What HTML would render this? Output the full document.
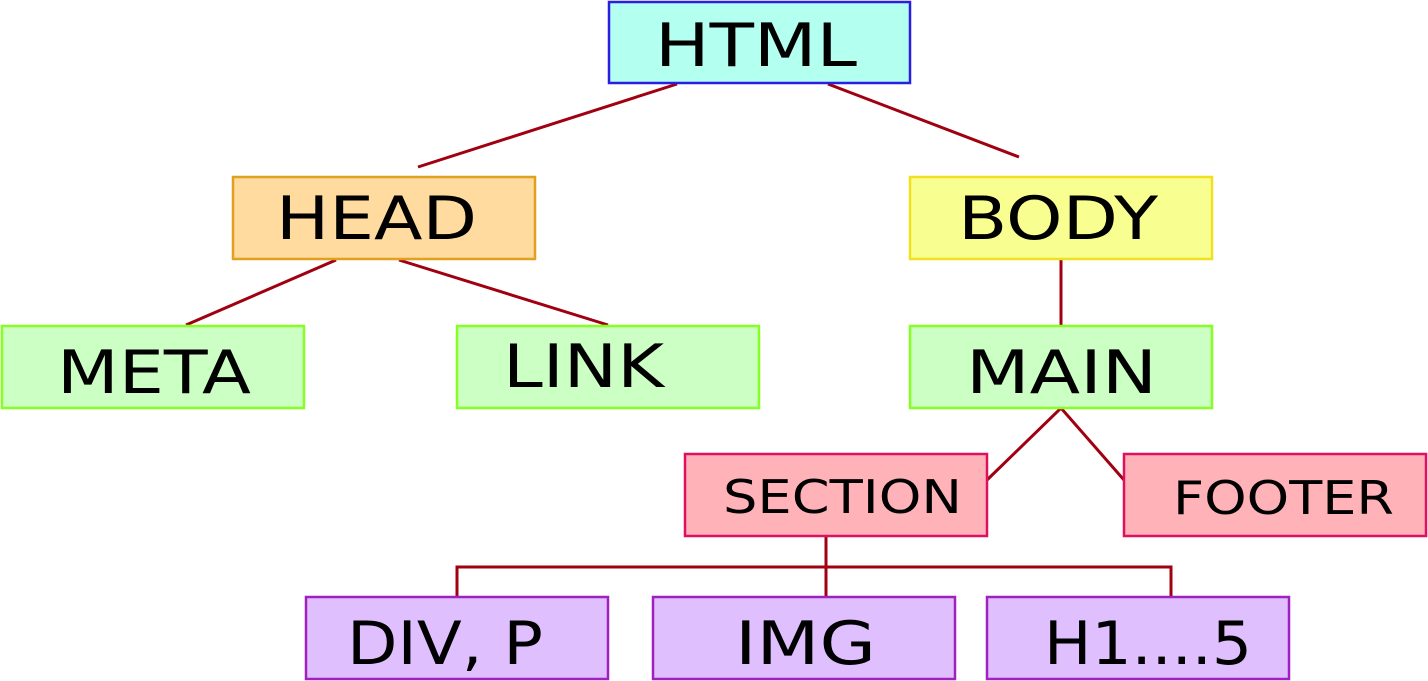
<!DOCTYPE html>
<html><head><style>html,body{margin:0;padding:0;background:#fff}svg{display:block}</style></head>
<body>
<svg width="1428" height="681" viewBox="0 0 1428 681" xmlns="http://www.w3.org/2000/svg" font-family="DejaVu Sans, Liberation Sans, sans-serif">
<g stroke="#a00010" stroke-width="3" fill="none">
<line x1="677" y1="84" x2="418" y2="167"/>
<line x1="828" y1="84" x2="1019" y2="157"/>
<line x1="336" y1="260" x2="186" y2="325"/>
<line x1="399" y1="260" x2="608" y2="325"/>
<line x1="1061" y1="260" x2="1061" y2="325"/>
<polyline points="987,480 1061,408 1124,480"/>
<line x1="826" y1="537" x2="826" y2="597"/>
<polyline points="457,597 457,567 1171,567 1171,597"/>
</g>
<g stroke-width="2.5">
<rect x="609" y="2" width="301" height="81" fill="#b3fff0" stroke="#2a1ee0"/>
<rect x="233" y="177" width="302" height="82" fill="#ffdba0" stroke="#e0a020"/>
<rect x="910" y="177" width="302" height="82" fill="#f8ff90" stroke="#f0e020"/>
<rect x="2" y="326" width="302" height="82" fill="#ccffc4" stroke="#88ff22"/>
<rect x="457" y="326" width="302" height="82" fill="#ccffc4" stroke="#88ff22"/>
<rect x="910" y="326" width="302" height="82" fill="#ccffc4" stroke="#88ff22"/>
<rect x="685" y="454" width="302" height="82" fill="#ffb3b8" stroke="#e01060"/>
<rect x="1124" y="454" width="302" height="82" fill="#ffb3b8" stroke="#e01060"/>
<rect x="306" y="597" width="302" height="82" fill="#e0bfff" stroke="#a020c0"/>
<rect x="653" y="597" width="302" height="82" fill="#e0bfff" stroke="#a020c0"/>
<rect x="987" y="597" width="302" height="82" fill="#e0bfff" stroke="#a020c0"/>
</g>
<g fill="#000" font-size="60" lengthAdjust="spacingAndGlyphs">
<text x="655" y="66" textLength="202" lengthAdjust="spacingAndGlyphs">HTML</text>
<text x="276" y="239" textLength="201" lengthAdjust="spacingAndGlyphs">HEAD</text>
<text x="958" y="239" textLength="200" lengthAdjust="spacingAndGlyphs">BODY</text>
<text x="57" y="393" textLength="194" lengthAdjust="spacingAndGlyphs">META</text>
<text x="503" y="387" textLength="161" lengthAdjust="spacingAndGlyphs">LINK</text>
<text x="966" y="393" textLength="191" lengthAdjust="spacingAndGlyphs">MAIN</text>
<text x="723" y="513" font-size="46" textLength="239" lengthAdjust="spacingAndGlyphs">SECTION</text>
<text x="1173" y="514" font-size="46" textLength="221" lengthAdjust="spacingAndGlyphs">FOOTER</text>
<text x="347" y="664" textLength="196" lengthAdjust="spacingAndGlyphs">DIV, P</text>
<text x="735" y="664" textLength="141" lengthAdjust="spacingAndGlyphs">IMG</text>
<text x="1044" y="664" textLength="208" lengthAdjust="spacingAndGlyphs">H1....5</text>
</g>
</svg>
</body></html>
